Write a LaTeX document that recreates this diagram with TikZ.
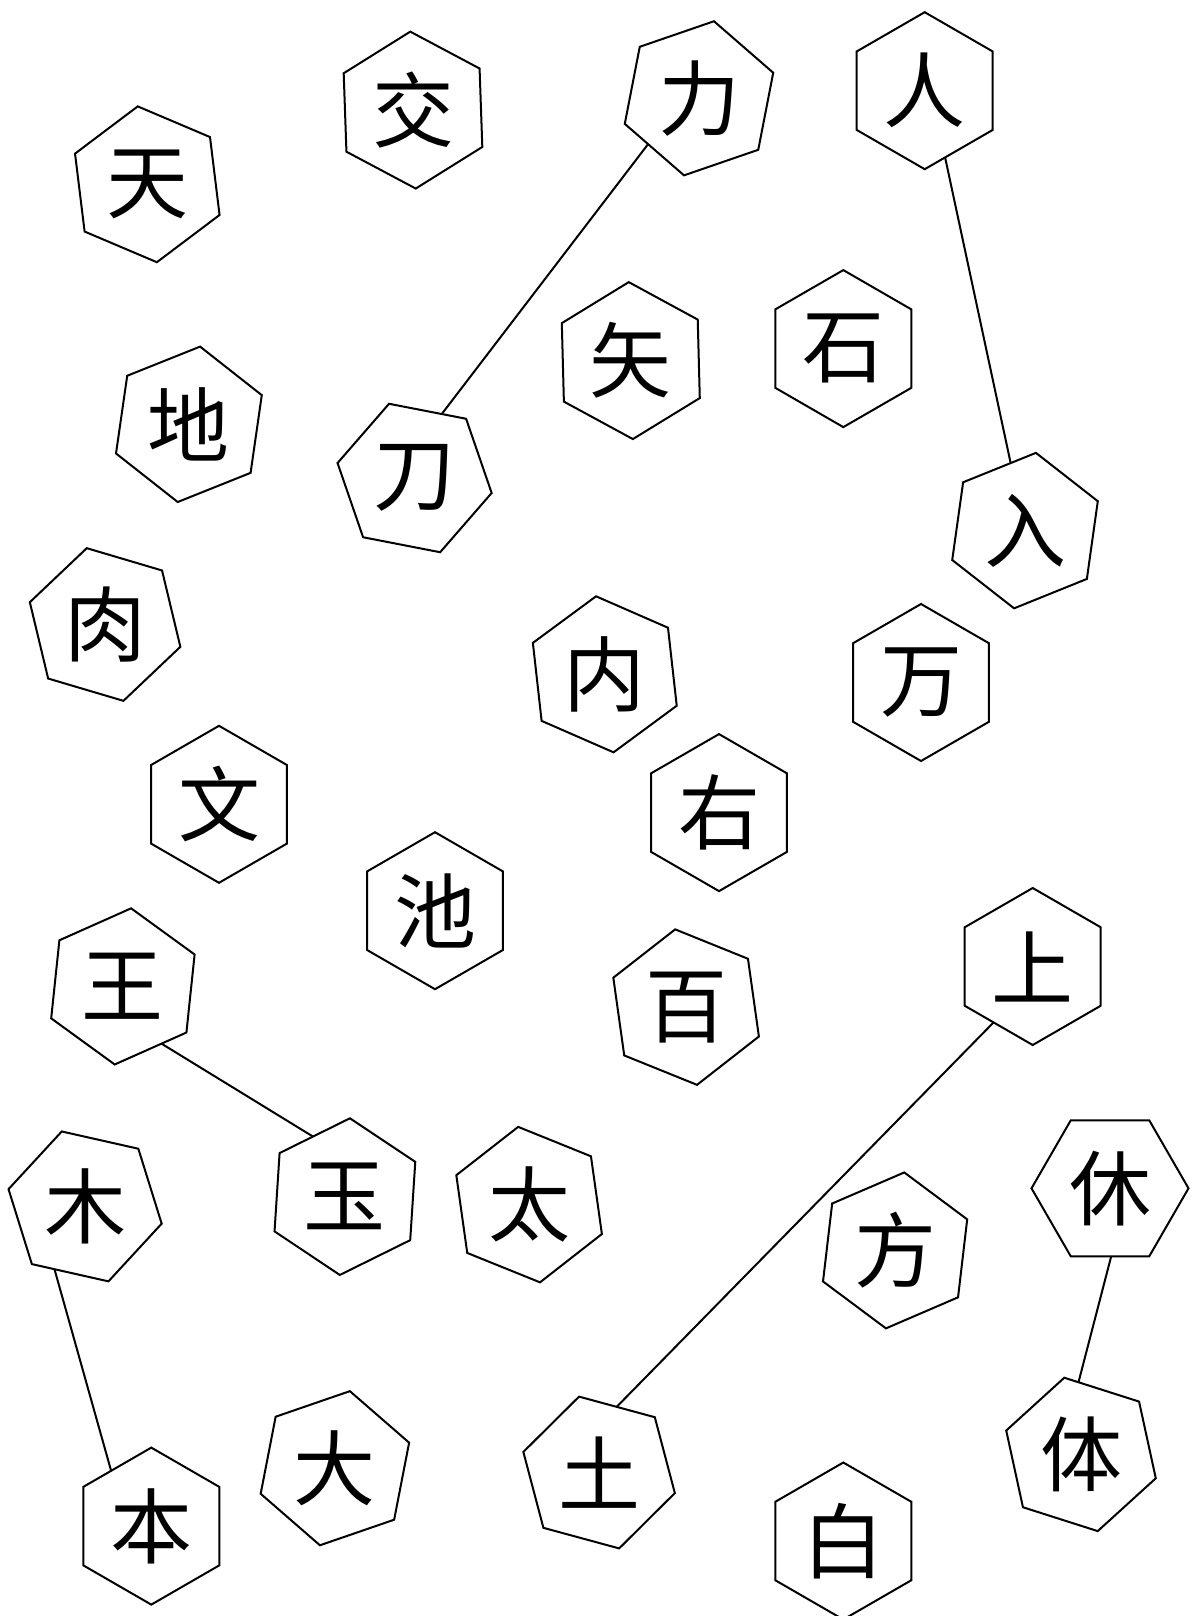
\documentclass[tikz,border=0pt]{standalone}
\usepackage{fontspec}
\newfontfamily\cjk{Noto Sans CJK SC}
\usetikzlibrary{shapes.geometric}

\begin{document}
\begin{tikzpicture}[x=0.5pt,y=-0.5pt]
    \tikzstyle{every node}+=[inner sep=0pt, outer sep=0pt]
    \tikzstyle{hexa}=[draw=black, line width=1pt, regular polygon, regular polygon sides=6, minimum size=78.5pt, font=\cjk\fontsize{41}{41}\selectfont]
    \useasboundingbox (0,0) rectangle (1195,1616);
    \node [hexa, shape border rotate=37] (heaven) at (147.3,184.3) {天};
    \node [hexa, shape border rotate=32] (cross) at (413,110.1) {交};
    \node [hexa, shape border rotate=19] (power) at (699,98.3) {力};
    \node [hexa, shape border rotate=30] (person) at (924.7,90.7) {人};
    \node [hexa, shape border rotate=21.8] (earth) at (188.9,424.3) {地};
    \node [hexa, shape border rotate=49] (sword) at (414.6,478) {刀};
    \node [hexa, shape border rotate=31.5] (arrow) at (630.8,360.6) {矢};
    \node [hexa, shape border rotate=30] (stone) at (843.3,348.6) {石};
    \node [hexa, shape border rotate=22] (enter) at (1025,530.6) {入};
    \node [hexa, shape border rotate=43.5] (flesh) at (105.1,624.5) {肉};
    \node [hexa, shape border rotate=36.4] (inside) at (604.8,674.3) {内};
    \node [hexa, shape border rotate=30] (myriad) at (921,682.5) {万};
    \node [hexa, shape border rotate=30] (script) at (219,804.3) {文};
    \node [hexa, shape border rotate=30] (right) at (719,812.6) {右};
    \node [hexa, shape border rotate=30] (pond) at (435,910.7) {池};
    \node [hexa, shape border rotate=24] (king) at (122.9,986.4) {王};
    \node [hexa, shape border rotate=38] (hundred) at (686.1,1007.1) {百};
    \node [hexa, shape border rotate=30] (up) at (1032.7,966.5) {上};
    \node [hexa, shape border rotate=26.3] (jade) at (344.9,1196.6) {玉};
    \node [hexa, shape border rotate=38] (grand) at (529.1,1204.6) {太};
    \node [hexa, shape border rotate=47.3] (tree) at (85.1,1206.4) {木};
    \node [hexa, shape border rotate=0] (rest) at (1110,1188.3) {休};
    \node [hexa, shape border rotate=23.3] (square) at (895.1,1250.4) {方};
    \node [hexa, shape border rotate=30] (root) at (151.3,1526.1) {本};
    \node [hexa, shape border rotate=19] (big) at (334.9,1468.2) {大};
    \node [hexa, shape border rotate=44.8] (soil) at (599.1,1472.5) {土};
    \node [hexa, shape border rotate=30] (white) at (843.3,1541) {白};
    \node [hexa, shape border rotate=42.3] (body) at (1081,1454.4) {体};
    \draw [black, line width=1pt] (power.-138) -- (sword.67);
    \draw [black, line width=1pt] (person.-73) -- (enter.102);
    \draw [black, line width=1pt] (king.-56) -- (jade.118);
    \draw [black, line width=1pt] (up.-125) -- (soil.75.5);
    \draw [black, line width=1pt] (rest.-89) -- (body.92);
    \draw [black, line width=1pt] (tree.-116) -- (root.126);
\end{tikzpicture}
\end{document}
